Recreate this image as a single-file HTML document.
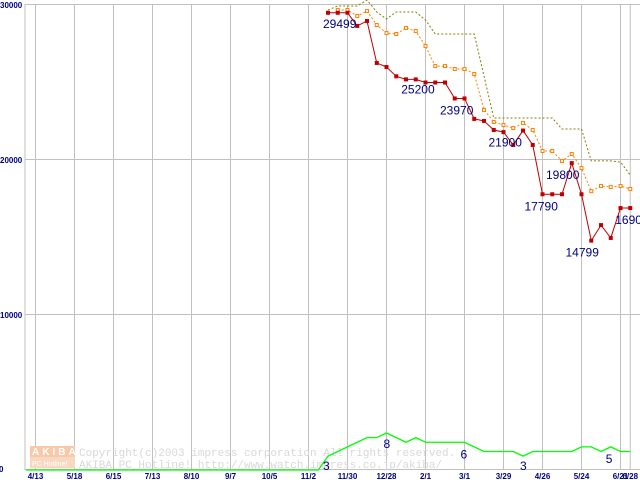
<!DOCTYPE html>
<html><head><meta charset="utf-8"><style>
body{margin:0;background:#fff}
svg{display:block;font-family:"Liberation Sans",sans-serif}
</style></head><body>
<svg id="c" width="640" height="480">
<g id="grid"></g>
<g id="wm">
 <rect x="30" y="446" width="45" height="11" fill="#f8c8a8"/>
 <rect x="30" y="457" width="45" height="11" fill="#f8d8c0"/>
 <text x="32" y="455" font-size="10" font-weight="bold" fill="#fff" letter-spacing="3">AKIBA</text>
 <text x="32" y="466" font-size="7" fill="#fff">PC Hotline!</text>
 <text x="79" y="456" font-size="11" font-family="Liberation Mono,monospace" fill="#d8d8d8">Copyright(c)2003 impress corporation All rights reserved.</text>
 <text x="79" y="468" font-size="11" font-family="Liberation Mono,monospace" fill="#d8d8d8">AKIBA PC Hotline!  http://www.watch.impress.co.jp/akiba/</text>
</g>
<g id="series"></g>
</svg>
<script>
const xTickLabels=["4/13","5/18","6/15","7/13","8/10","9/7","10/5","11/2","11/30","12/28","2/1","3/1","3/29","4/26","5/24","6/21","6/28"];
const xTickIdx=[-28,-24,-20,-16,-12,-8,-4,0,4,8,12,16,20,24,28,32,33];
const yTicks=[0,10000,20000,30000];
const redStart=2;
const redVals=[29499,29499,29499,28650,28970,26260,26000,25400,25200,25200,25000,25000,25000,23970,23970,22650,22520,21935,21800,20970,21900,20970,17790,17790,17790,19800,17790,14799,15800,14970,16900,16900];
const orangeStart=3;
const orangeVals=[29680,29680,29290,29610,28710,28190,28130,28520,28320,27350,26060,26060,25870,25870,25550,23230,22450,22260,22060,22390,21940,20580,20580,19940,20390,19480,17990,18320,18260,18320,18130];
const maxStart=2;
const maxVals=[29680,29935,29935,29935,30320,29550,29100,29550,29550,29550,29030,28130,28130,28130,28130,28130,25420,22710,22710,22710,22710,22710,22710,22710,22000,22000,22000,19940,19940,19940,19870,19030];
const volStart=1;
const volVals=[0,3,4,5,6,7,7,8,7,6,7,6,6,6,6,6,5,4,4,4,4,3,4,4,4,4,4,5,5,4,5,4,4];
const priceLabels=[[2,29499,-5,15],[9,25200,5,14],[14,23970,-5,16],[20,21900,-15,16],[26,19800,-16,16],[24,17790,-18,16],[28,14799,-16,16],[33,16900,-15,16]];
const volLabels=[[2,3,-5,14],[8,8,-3,15],[16,6,-4,16],[22,3,-3,14],[31,5,-5,16]];

const X=i=>308.5+i*9.75;
const Y=v=>470-v*0.0155;
const VY=v=>470-v*4.625;
const NS="http://www.w3.org/2000/svg";
function mk(p,t,a){const e=document.createElementNS(NS,t);for(const k in a)e.setAttribute(k,a[k]);p.appendChild(e);return e;}
const g=document.getElementById('grid'), s=document.getElementById('series');
mk(g,'line',{x1:25,y1:4,x2:25,y2:470,stroke:'#c0c0c0'});
yTicks.forEach(v=>{
 const l=mk(g,'line',{x1:25,x2:640,y1:Y(v)-0.5,y2:Y(v)-0.5,stroke:'#c0c0c0'});
 
 
 const t=mk(g,'text',{x:v?0:-1,y:v?Y(v)+3:Y(v)+2,'font-size':8,'font-weight':'bold',fill:'#000080'});
 t.textContent=v;
 
 
});
xTickIdx.forEach((i,k)=>{
 const l=mk(g,'line',{x1:X(i),x2:X(i),y1:4,y2:470,stroke:'#c0c0c0'});
 
 
 const t=mk(g,'text',{x:X(i),y:479,'font-size':8,'font-weight':'bold',fill:'#000080','text-anchor':'middle'});
 t.textContent=xTickLabels[k];
 
 
});
function pts(vals,st,fy){return vals.map((v,k)=>X(st+k)+','+fy(v)).join(' ');}
const vl=mk(s,'polyline',{points:'26,470 '+pts(volVals,volStart,VY),fill:'none',stroke:'#00ff00','stroke-width':1.3});


const ml=mk(s,'polyline',{points:pts(maxVals,maxStart,Y),fill:'none',stroke:'#808000','stroke-dasharray':'2,2'});


const ol=mk(s,'polyline',{points:pts(orangeVals,orangeStart,Y),fill:'none',stroke:'#ff8000','stroke-dasharray':'2,2'});


orangeVals.forEach((v,k)=>{
 const r=mk(s,'rect',{x:X(orangeStart+k)-1.5,y:Y(v)-1.5,width:3,height:3,fill:'#fff',stroke:'#ff8000'});
 
 
});
const rl=mk(s,'polyline',{points:pts(redVals,redStart,Y),fill:'none',stroke:'#c00000'});


redVals.forEach((v,k)=>{
 const r=mk(s,'rect',{x:X(redStart+k)-2,y:Y(v)-2,width:4,height:4,fill:'#c00000'});
 
 
});
priceLabels.forEach(([i,v,dx,dy])=>{
 const t=mk(s,'text',{x:X(i)+dx,y:Y(v)+dy,'font-size':12,fill:'#000080'});
 t.textContent=v;
 
 
});
volLabels.forEach(([i,v,dx,dy])=>{
 const t=mk(s,'text',{x:X(i)+dx,y:VY(v)+dy,'font-size':12,fill:'#000080'});
 t.textContent=v;
 
 
});
</script>
</body></html>
